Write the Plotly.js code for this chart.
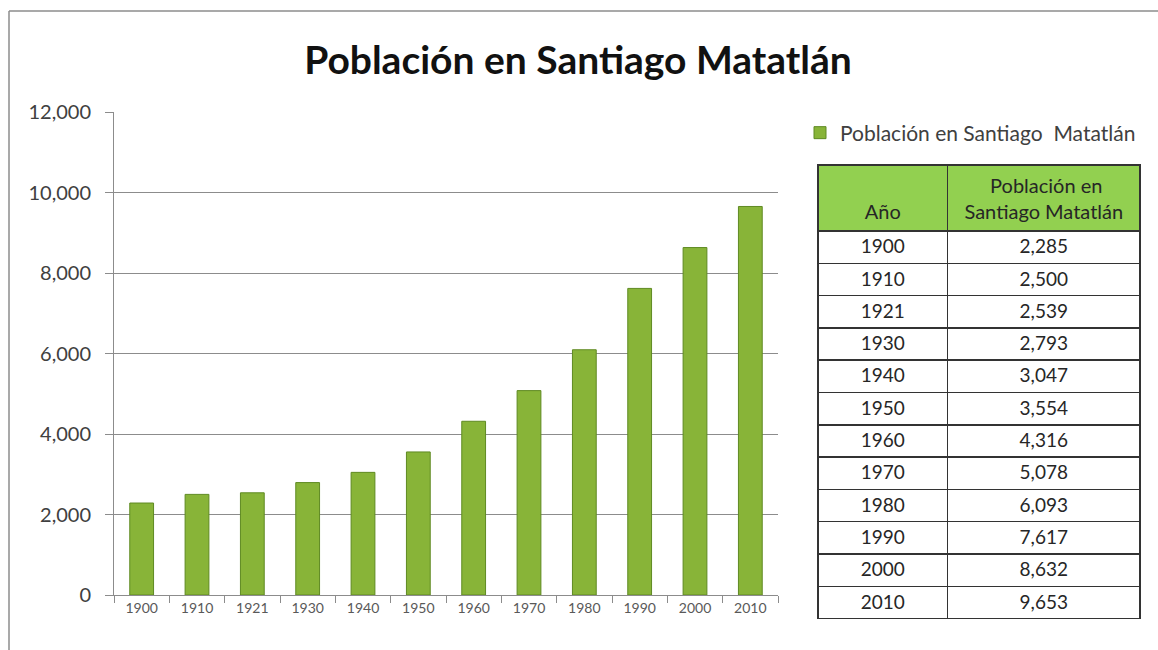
<!DOCTYPE html>
<html>
<head>
<meta charset="utf-8">
<script src="https://cdn.plot.ly/plotly-3.0.1.min.js"></script>
<style>html,body{margin:0;padding:0;background:#fff;}#chart{width:1158px;height:650px;}</style>
</head>
<body>
<div id="chart"></div>
<script>
const years = ['1900','1910','1921','1930','1940','1950','1960','1970','1980','1990','2000','2010'];
const population = [2285, 2500, 2539, 2793, 3047, 3554, 4316, 5078, 6093, 7617, 8632, 9653];
const seriesName = 'Población en Santiago  Matatlán';
const chartTitle = 'Población en Santiago Matatlán';
const NB = '\u00A0';
const tableHeader = [NB + '<br>Año', NB.repeat(5) + 'Población en<br>Santiago Matatlán'];

const FONT = 'Lato, "Open Sans", sans-serif';

const barTrace = {
  type: 'bar',
  x: years,
  y: population,
  name: seriesName,
  marker: {color: '#88B438', line: {color: '#5F8A22', width: 1}},
  hoverinfo: 'x+y'
};

const tableTrace = {
  type: 'table',
  domain: {x: [0.6855, 1], y: [0, 465/518]},
  columnwidth: [130, 193],
  header: {
    values: tableHeader,
    align: 'center',
    height: 62,
    fill: {color: '#92D050'},
    line: {color: '#333333', width: 1.5},
    font: {family: FONT, size: 20, color: '#262626'}
  },
  cells: {
    values: [years, population],
    format: ['', ','],
    align: 'center',
    height: 32.3,
    fill: {color: '#ffffff'},
    line: {color: '#333333', width: 1.5},
    font: {family: FONT, size: 19, color: '#262626'}
  }
};

const PH = 518, PW = 1027;
const frameX0 = -105/PW, frameYTop = (630-11)/PH;

const layout = {
  width: 1158, height: 650,
  margin: {l: 114, r: 17, t: 112, b: 20},
  paper_bgcolor: '#ffffff', plot_bgcolor: '#ffffff',
  font: {family: FONT, color: '#404040'},
  title: {text: chartTitle, x: 578/1158, xref: 'container', xanchor: 'center', y: 1 - 60/650, yanchor: 'middle',
          font: {family: FONT, size: 39, color: '#111111', weight: 'bold'}},
  showlegend: true,
  legend: {x: (800-114)/PW, xref: 'paper', y: (630-133)/PH, yanchor: 'middle', xanchor: 'left',
           font: {family: FONT, size: 21, color: '#404040'}, bgcolor: 'rgba(0,0,0,0)'},
  bargap: 0.57,
  xaxis: {
    domain: [0, 664/PW],
    type: 'category',
    showline: true, linecolor: '#8c8c8c', linewidth: 1,
    ticks: 'outside', tickson: 'boundaries', ticklen: 7, tickcolor: '#8c8c8c',
    tickfont: {family: FONT, size: 14, color: '#595959'},
    showgrid: false, fixedrange: true
  },
  yaxis: {
    domain: [35/PH, 1],
    range: [0, 12000], dtick: 2000, tickformat: ',d',
    showline: true, linecolor: '#8c8c8c', linewidth: 1,
    ticks: 'outside', ticklen: 8, tickcolor: '#8c8c8c',
    ticklabelstandoff: 10,
    showgrid: true, gridcolor: '#8c8c8c', gridwidth: 1, zeroline: false,
    tickfont: {family: FONT, size: 20, color: '#404040'}, fixedrange: true
  },
  shapes: [
    {type: 'line', xref: 'paper', yref: 'paper', x0: frameX0, x1: 1.1, y0: frameYTop, y1: frameYTop, line: {color: '#8c8c8c', width: 1.5}},
    {type: 'line', xref: 'paper', yref: 'paper', x0: frameX0, x1: frameX0, y0: frameYTop, y1: -0.2, line: {color: '#8c8c8c', width: 1.5}}
  ]
};

Plotly.newPlot('chart', [barTrace, tableTrace], layout, {displayModeBar: false, staticPlot: true});
</script>
</body>
</html>
